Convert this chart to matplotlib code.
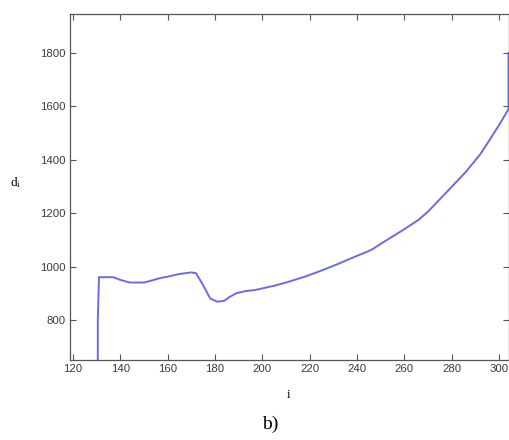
import numpy as np
import matplotlib
matplotlib.use("Agg")
import matplotlib.pyplot as plt

plt.rcParams['mathtext.fontset'] = 'custom'
plt.rcParams['mathtext.rm'] = 'Liberation Serif'
plt.rcParams['mathtext.it'] = 'Liberation Serif:italic'
plt.rcParams['font.family'] = ['Liberation Sans', 'DejaVu Sans']

# values
i_vals = [130.5, 130.5, 131, 137, 140, 144, 150, 153, 157, 160, 165, 170, 172,
          175, 178, 181, 184, 186, 189, 193, 197, 200, 205, 210, 218, 225, 231,
          240, 246, 250, 256, 260, 266, 270, 278, 286, 292, 296, 300, 304, 304]
d_vals = [650, 800, 960, 960, 950, 940, 940, 947, 957, 962, 972, 978, 975,
          930, 880, 868, 872, 885, 900, 908, 912, 918, 928, 940, 962, 985, 1006,
          1040, 1062, 1085, 1118, 1140, 1175, 1206, 1280, 1355, 1420, 1474, 1530,
          1590, 1800]
x_ticks = [120, 140, 160, 180, 200, 220, 240, 260, 280, 300]
y_ticks = [800, 1000, 1200, 1400, 1600, 1800]

fig = plt.figure(figsize=(5.1, 4.4), dpi=100)
ax = fig.add_axes([0.137, 0.182, 0.861, 0.786])

ax.plot(i_vals, d_vals, color='#6b6be6', lw=1.4)

ax.set_xlim(118.7, 304.2)
ax.set_ylim(650, 1946)
ax.set_xticks(x_ticks)
ax.set_yticks(y_ticks)
ax.tick_params(direction='in', length=4, width=0.8, top=True, right=True,
               labelsize=8.2, labelcolor='#3a3a3a', color='#555555', pad=3)
for s in ax.spines.values():
    s.set_color('#555555')
    s.set_linewidth(0.9)

fig.text(0.02, 0.585, r'$\mathrm{d_i}$', fontsize=9.5, ha='left', va='center')
fig.text(0.565, 0.103, 'i', fontsize=9, family='Liberation Serif', ha='center', va='center')
fig.text(0.53, 0.035, 'b)', fontsize=14, family='Liberation Serif', ha='center', va='center')

fig.savefig('out.png', dpi=100)
